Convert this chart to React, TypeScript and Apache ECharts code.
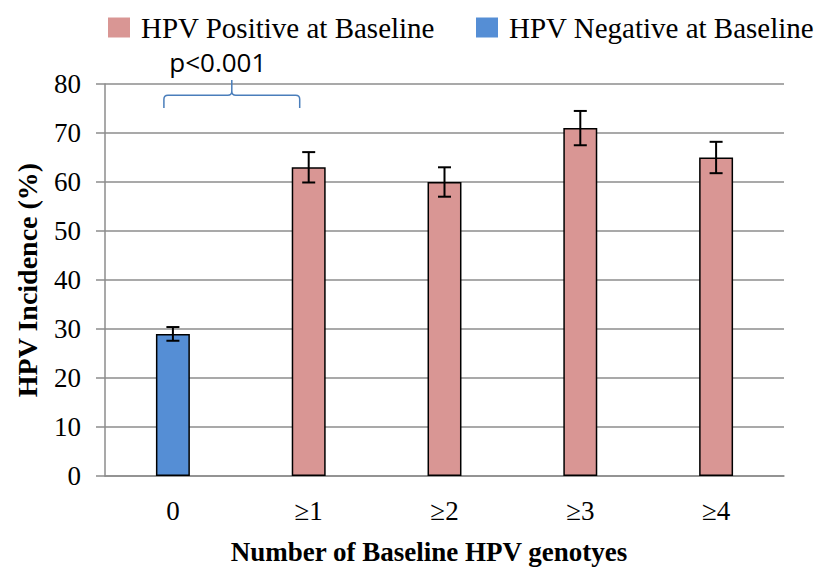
import React, { useEffect, useRef } from "react";
import * as echarts from "echarts";

const categories = ["0", "≥1", "≥2", "≥3", "≥4"];
const negativeValues: (number | string)[] = [29, "-", "-", "-", "-"];
const positiveValues: (number | string)[] = ["-", 63, 60, 71, 65];
const errorMargins = [1.4, 3.1, 3.0, 3.5, 3.2];
const barValues = [29, 63, 60, 71, 65];
const yTicks = [0, 10, 20, 30, 40, 50, 60, 70, 80];
const pLabel = "p<0.001";

const SERIF = "'Liberation Serif', 'Times New Roman', serif";
const PINK = "#D99694";
const BLUE = "#558ED5";

export default function App() {
  const ref = useRef<HTMLDivElement>(null);

  useEffect(() => {
    if (!ref.current) return;
    const chart = echarts.init(ref.current, null, { renderer: "svg" });

    const errorData = barValues.map((v, i) => [i, v - errorMargins[i], v + errorMargins[i]]);

    chart.setOption({
      animation: false,
      backgroundColor: "#fff",
      textStyle: { fontFamily: SERIF },
      legend: {
        top: 8,
        left: 103,
        itemWidth: 22,
        itemHeight: 20,
        itemGap: 41,
        textStyle: { fontFamily: SERIF, fontSize: 29, color: "#000", padding: [0, 0, 0, 6] },
        data: [
          { name: "HPV Positive at Baseline", icon: "rect", itemStyle: { color: PINK, borderWidth: 0 } },
          { name: "HPV Negative at Baseline", icon: "rect", itemStyle: { color: BLUE, borderWidth: 0 } },
        ],
      },
      grid: { left: 105, right: 41, top: 84, bottom: 93, containLabel: false },
      xAxis: {
        type: "category",
        data: categories,
        axisLine: { lineStyle: { color: "#8c8c8c", width: 1.5 } },
        axisTick: { show: false },
        axisLabel: { fontFamily: SERIF, fontSize: 27, color: "#000", margin: 21 },
        name: "Number of Baseline HPV genotyes",
        nameLocation: "middle",
        nameGap: 62,
        nameTextStyle: {
          fontFamily: SERIF,
          fontSize: 27,
          fontWeight: "bold",
          color: "#000",
          padding: [0, 31, 0, 0],
        },
      },
      yAxis: {
        type: "value",
        min: yTicks[0],
        max: yTicks[yTicks.length - 1],
        interval: 10,
        axisLine: { show: true, lineStyle: { color: "#8c8c8c", width: 1.5 } },
        axisTick: { show: true, inside: false, length: 9, lineStyle: { color: "#8c8c8c", width: 1.5 } },
        axisLabel: { fontFamily: SERIF, fontSize: 27, color: "#000", margin: 24 },
        splitLine: { show: true, lineStyle: { color: "#8c8c8c", width: 1.5 } },
        name: "HPV Incidence (%)",
        nameLocation: "middle",
        nameGap: 64,
        nameTextStyle: { fontFamily: SERIF, fontSize: 28, fontWeight: "bold", color: "#000" },
      },
      series: [
        {
          name: "HPV Positive at Baseline",
          type: "bar",
          stack: "all",
          barWidth: "25%",
          data: positiveValues,
          itemStyle: { color: PINK, borderColor: "#000", borderWidth: 1.5 },
        },
        {
          name: "HPV Negative at Baseline",
          type: "bar",
          stack: "all",
          barWidth: "25%",
          data: negativeValues,
          itemStyle: { color: BLUE, borderColor: "#000", borderWidth: 1.5 },
        },
        {
          name: "error",
          type: "custom",
          data: errorData,
          z: 10,
          silent: true,
          renderItem: (_params: any, api: any) => {
            const x = api.value(0);
            const lo = api.coord([x, api.value(1)]);
            const hi = api.coord([x, api.value(2)]);
            const cap = 6.5;
            const style = { stroke: "#000", lineWidth: 2, fill: "none" };
            return {
              type: "group",
              children: [
                { type: "line", shape: { x1: lo[0], y1: lo[1], x2: hi[0], y2: hi[1] }, style },
                { type: "line", shape: { x1: hi[0] - cap, y1: hi[1], x2: hi[0] + cap, y2: hi[1] }, style },
                { type: "line", shape: { x1: lo[0] - cap, y1: lo[1], x2: lo[0] + cap, y2: lo[1] }, style },
              ],
            };
          },
        },
        {
          name: "bracket",
          type: "custom",
          data: [[0, 1]],
          z: 10,
          silent: true,
          renderItem: (_params: any, api: any) => {
            const a = api.coord([api.value(0), 80]);
            const b = api.coord([api.value(1), 80]);
            const unit = api.size([0, 1])[1];
            const x1 = a[0] - 9;
            const x2 = b[0] - 9;
            const xm = (x1 + x2) / 2;
            const yBar = a[1] + unit * 2.3;
            const yEnd = a[1] + unit * 4.9;
            const yTip = a[1] - unit * 0.8;
            const r = 4;
            const d =
              `M${x1},${yEnd} L${x1},${yBar + r} Q${x1},${yBar} ${x1 + r},${yBar} ` +
              `L${xm - r},${yBar} Q${xm},${yBar} ${xm},${yBar - r} L${xm},${yTip} ` +
              `M${xm},${yBar - r} Q${xm},${yBar} ${xm + r},${yBar} ` +
              `L${x2 - r},${yBar} Q${x2},${yBar} ${x2},${yBar + r} L${x2},${yEnd}`;
            return {
              type: "group",
              children: [
                {
                  type: "path",
                  shape: { pathData: d },
                  style: { stroke: "#4A7EBB", lineWidth: 1.5, fill: "none" },
                },
                {
                  type: "text",
                  x: xm - 14,
                  y: yTip - 18,
                  style: {
                    text: pLabel,
                    fontFamily: "'Open Sans', 'Noto Sans', sans-serif",
                    fontSize: 26,
                    fill: "#000",
                    align: "center",
                    verticalAlign: "middle",
                  },
                },
              ],
            };
          },
        },
      ],
    });

    return () => chart.dispose();
  }, []);

  return <div ref={ref} style={{ width: 825, height: 570, position: "absolute", left: 0, top: 0 }} />;
}
